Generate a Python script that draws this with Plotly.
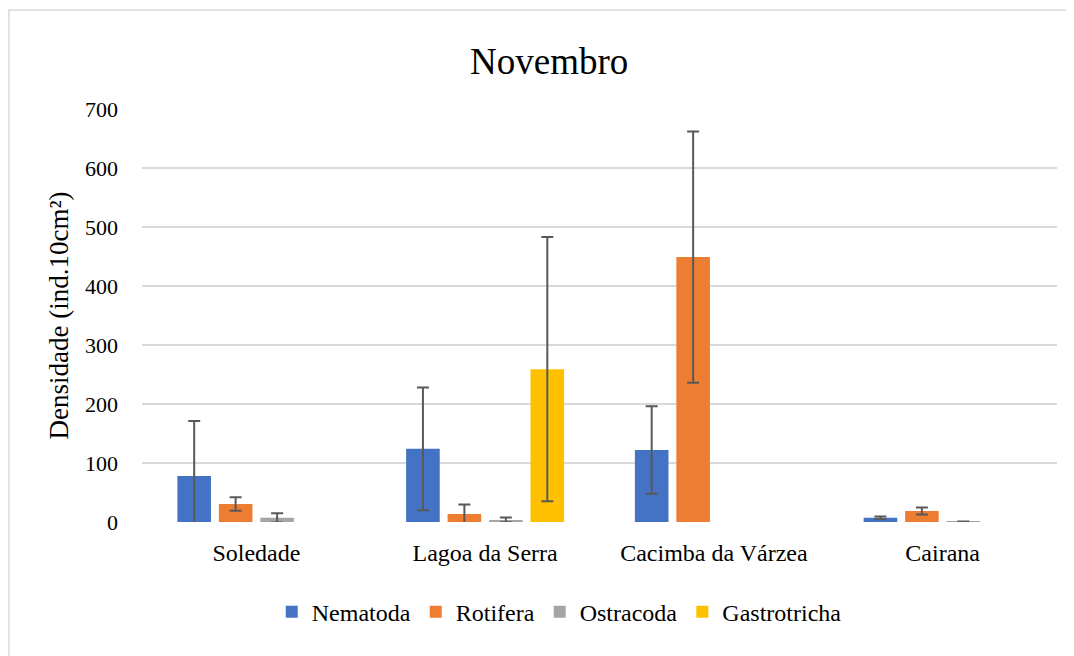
import plotly.graph_objects as go

sites = ["Soledade", "Lagoa da Serra", "Cacimba da Várzea", "Cairana"]

nematoda = [78, 124, 122, 7]
nematoda_err = [93, 104, 74, 2.5]
rotifera = [30.5, 13.5, 449, 18.6]
rotifera_err = [11.5, 16, 213, 6]
ostracoda = [7, 3.5, None, 1]
ostracoda_err = [8, 4, 0, 0]
gastrotricha = [None, 259, None, None]
gastrotricha_err = [0, 224, 0, 0]

series = [
    ("Nematoda", nematoda, nematoda_err, "#4472C4"),
    ("Rotifera", rotifera, rotifera_err, "#ED7D31"),
    ("Ostracoda", ostracoda, ostracoda_err, "#A5A5A5"),
    ("Gastrotricha", gastrotricha, gastrotricha_err, "#FFC000"),
]

serif = "Liberation Serif"

fig = go.Figure()
for name, vals, errs, color in series:
    fig.add_trace(go.Bar(
        x=sites,
        y=vals,
        name=name,
        marker=dict(color=color, line=dict(width=0)),
        error_y=dict(type="data", array=errs, visible=True,
                     color="#595959", thickness=2, width=6),
    ))

# page body adds an 8px offset, so the figure is 8px smaller than the window
fig.update_layout(
    width=1066,
    height=648,
    barmode="group",
    bargap=0.275,
    bargroupgap=0.19,
    plot_bgcolor="white",
    paper_bgcolor="white",
    font=dict(family=serif, size=22, color="black"),
    title=dict(text="Novembro", xref="paper", x=0.445, xanchor="center",
               y=0.918, yanchor="middle",
               font=dict(size=37, family=serif, color="black")),
    margin=dict(l=134, r=17, t=101, b=134),
    legend=dict(orientation="h", x=0.456, xanchor="center", y=-0.218, yanchor="middle",
                font=dict(size=24, family=serif, color="black"),
                itemwidth=30, traceorder="normal"),
    yaxis=dict(range=[0, 700], dtick=100, showgrid=True, gridcolor="#D9D9D9",
               gridwidth=1.5, zeroline=False, showline=False, ticks="",
               ticklabelstandoff=23,
               title=dict(text="Densidade (ind.10cm²)", standoff=8,
                          font=dict(size=27, family=serif, color="black")),
               tickfont=dict(size=22, family=serif, color="black")),
    xaxis=dict(showline=False, ticks="", ticklabelstandoff=14,
               tickfont=dict(size=24, family=serif, color="black")),
    shapes=[dict(type="rect", xref="paper", yref="paper", x0=-0.1454, x1=1.2,
                 y0=-0.6, y1=1.2397, line=dict(color="#D9D9D9", width=1.5))],
)

fig.write_html("out.html")
